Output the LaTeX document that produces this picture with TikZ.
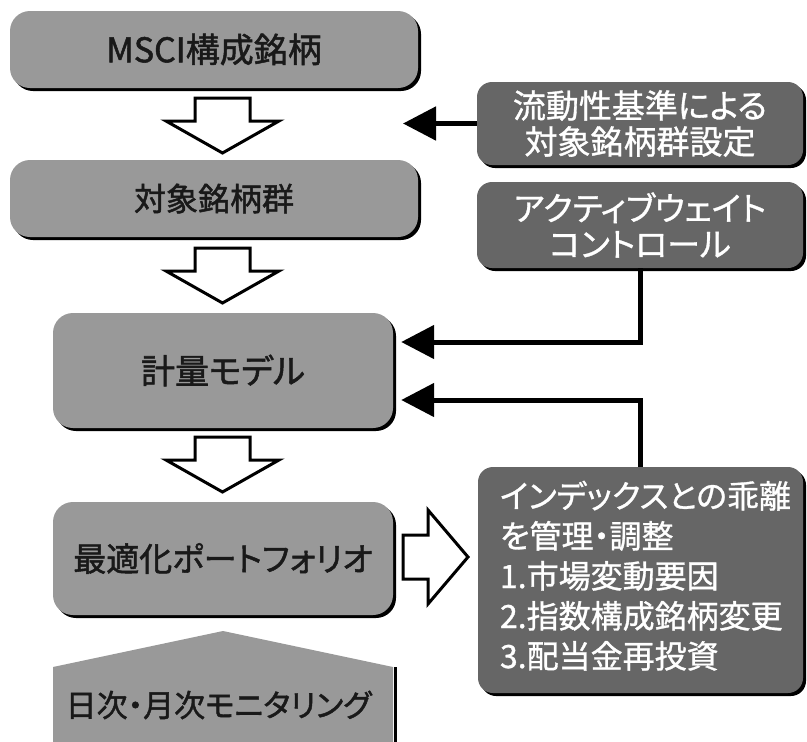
\documentclass[tikz,border=0pt]{standalone}
\usepackage{fontspec}
\newfontfamily\jpfont[RawFeature=+palt,FakeBold=1.5]{Noto Sans CJK JP}
\newfontfamily\jplight[RawFeature=+palt,FakeBold=1]{Noto Sans CJK JP}
\usetikzlibrary{shadows,arrows.meta,calc}

\definecolor{lightbox}{gray}{0.6}
\definecolor{darkbox}{gray}{0.4}

\tikzset{
  stage/.style={rectangle, rounded corners=20pt, fill=lightbox, text=black!90, inner sep=0pt,
    font={\jpfont\fontsize{34}{40}\selectfont},
    drop shadow={shadow xshift=3pt, shadow yshift=-3pt, fill=black, opacity=1}},
  control/.style={rectangle, rounded corners=15pt, fill=darkbox, text=white, inner sep=0pt,
    align=center, font={\jplight\fontsize{33}{36}\selectfont},
    drop shadow={shadow xshift=3pt, shadow yshift=-3pt, fill=black, opacity=1}},
  hollow/.style={draw=black, fill=white, line width=3pt, line join=miter},
  feed/.style={line width=5pt, -{Triangle[length=33pt,width=33pt]}}
}

\begin{document}
\begin{tikzpicture}[x=1pt,y=-1pt]
  \useasboundingbox (0,0) rectangle (807,742);

  % main flow
  \begin{scope}[every node/.style={stage}]
    \node[minimum width=408pt, minimum height=77pt]  (msci)   at (214,49.5)  {MSCI構成銘柄};
    \node[minimum width=408pt, minimum height=77pt, font={\jpfont\fontsize{32}{40}\selectfont}]
                                                      (target) at (214,198.5) {対象銘柄群};
    \node[minimum width=340pt, minimum height=115pt] (model)  at (223,370.5) {計量モデル};
    \node[minimum width=340pt, minimum height=113pt, font={\jpfont\fontsize{33}{36}\selectfont}]
                                                      (optim)  at (223,558.5) {最適化ポートフォリオ};
  \end{scope}

  % monitoring
  \fill[lightbox] (53,667) -- (223,631) -- (393,667) -- (393,745) -- (53,745) -- cycle;
  \draw[line width=3pt] (395,667) -- (395,745);
  \node[text=black!90, font={\jpfont\fontsize{31}{34}\selectfont}] (monitor) at (218.5,705) {日次・月次モニタリング};

  % side controls
  \begin{scope}[every node/.style={control}]
    \node[minimum width=326pt, minimum height=83pt]  (liq) at (640,123.5) {流動性基準による\\対象銘柄群設定};
    \node[minimum width=326pt, minimum height=86pt]  (aw)  at (640,225)   {アクティブウェイト\\コントロール};
    \node[minimum width=325pt, minimum height=226pt, font={\jplight\fontsize{32}{40}\selectfont}]
      (dev) at (640.5,580) {\makebox[325pt][l]{\hspace{22pt}\raisebox{-3pt}{\begin{tabular}{@{}l@{}}
        インデックスとの乖離\\を管理・調整\\1.市場変動要因\\2.指数構成銘柄変更\\3.配当金再投資\end{tabular}}}};
  \end{scope}

  % block arrows
  \foreach \t in {98,248,437}
    \draw[hollow] (195,\t) -- (250,\t) -- (250,\t+23) -- (279,\t+23) -- (222.5,\t+55)
      -- (166,\t+23) -- (195,\t+23) -- cycle;
  \draw[hollow] (403,535) -- (428,535) -- (428,510) -- (468,557) -- (428,604) -- (428,579)
    -- (403,579) -- cycle;

  % feedback
  \coordinate (liqtip) at (403,123.5);
  \draw[feed] (liq.west) -- (liqtip);
  \draw[feed] (aw.south) |- ($(model.east)+(8,-28.5)$);
  \draw[feed] (dev.north) |- ($(model.east)+(8,29.5)$);

\end{tikzpicture}
\end{document}
